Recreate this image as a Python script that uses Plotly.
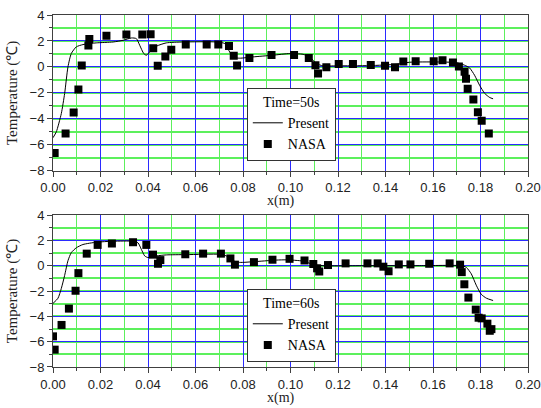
import plotly.graph_objects as go

# ---- Data: Time = 50 s ----
nasa50_x = [0.0007, 0.0053, 0.0087, 0.0107, 0.0121, 0.0149, 0.0153, 0.0225, 0.0309, 0.0376,
            0.0411, 0.0422, 0.0441, 0.0473, 0.0498, 0.0559, 0.0647, 0.0696, 0.0741, 0.0761,
            0.0775, 0.0827, 0.0920, 0.1015, 0.1077, 0.1105, 0.1116, 0.1151, 0.1203, 0.1263,
            0.1338, 0.1398, 0.1440, 0.1475, 0.1527, 0.1603, 0.1640, 0.1684, 0.1709, 0.1733,
            0.1739, 0.1746, 0.1770, 0.1789, 0.1805, 0.1835]
nasa50_y = [-6.63, -5.13, -3.52, -1.75, 0.10, 1.64, 2.15, 2.41, 2.49, 2.49,
            2.52, 1.44, 0.08, 0.80, 1.33, 1.72, 1.72, 1.72, 1.62, 0.85,
            0.10, 0.69, 0.92, 0.92, 0.69, 0.13, -0.51, -0.03, 0.23, 0.23,
            0.15, 0.08, -0.03, 0.41, 0.44, 0.44, 0.51, 0.33, 0.03, -0.38,
            -0.92, -1.69, -2.51, -3.49, -4.15, -5.13]
pres50_x = [0.0, 0.0014, 0.0035, 0.0049, 0.0063, 0.0077, 0.0098, 0.0126, 0.0182, 0.0253,
            0.0295, 0.0330, 0.0351, 0.0365, 0.0382, 0.0393, 0.0407, 0.0435, 0.0477, 0.0547,
            0.0688, 0.0723, 0.0744, 0.0765, 0.0786, 0.0842, 0.0926, 0.0997, 0.1053, 0.1081,
            0.1109, 0.1137, 0.1193, 0.1333, 0.1445, 0.1502, 0.1614, 0.1698, 0.1733, 0.1754,
            0.1775, 0.1796, 0.1818, 0.1839, 0.1853]
pres50_y = [-5.46, -5.00, -3.60, -2.05, 0.00, 1.03, 1.54, 1.72, 1.85, 1.92,
            2.05, 2.23, 2.18, 1.67, 1.03, 0.90, 1.15, 1.59, 1.85, 1.92,
            1.92, 1.80, 1.15, 0.72, 0.67, 0.77, 0.90, 1.03, 0.97, 0.77,
            0.26, 0.08, 0.08, 0.10, 0.20, 0.36, 0.38, 0.33, 0.13, -0.08,
            -0.64, -1.41, -2.05, -2.36, -2.46]

# ---- Data: Time = 60 s ----
nasa60_x = [0.0000, 0.0007, 0.0036, 0.0067, 0.0095, 0.0107, 0.0142, 0.0188, 0.0248, 0.0337,
            0.0393, 0.0421, 0.0442, 0.0452, 0.0557, 0.0632, 0.0707, 0.0747, 0.0766, 0.0846,
            0.0924, 0.0996, 0.1059, 0.1096, 0.1112, 0.1121, 0.1158, 0.1232, 0.1324, 0.1367,
            0.1391, 0.1413, 0.1456, 0.1505, 0.1584, 0.1670, 0.1714, 0.1721, 0.1732, 0.1749,
            0.1780, 0.1792, 0.1805, 0.1829, 0.1839, 0.1846]
nasa60_y = [-5.58, -6.63, -4.68, -3.39, -1.98, -0.59, 0.95, 1.64, 1.75, 1.85,
            1.64, 0.87, 0.15, 0.44, 0.90, 0.95, 0.95, 0.57, 0.08, 0.28,
            0.47, 0.54, 0.41, 0.13, -0.21, -0.46, 0.05, 0.18, 0.18, 0.18,
            -0.08, -0.44, 0.10, 0.10, 0.15, 0.18, 0.08, -0.51, -1.47, -2.52,
            -3.47, -4.11, -4.16, -4.58, -5.14, -5.01]
pres60_x = [0.0, 0.0021, 0.0035, 0.0049, 0.0063, 0.0077, 0.0098, 0.0126, 0.0182, 0.0253,
            0.0337, 0.0358, 0.0372, 0.0386, 0.0400, 0.0435, 0.0477, 0.0561, 0.0702, 0.0730,
            0.0758, 0.0786, 0.0842, 0.0940, 0.0982, 0.1053, 0.1095, 0.1137, 0.1333, 0.1544,
            0.1719, 0.1740, 0.1761, 0.1782, 0.1803, 0.1825, 0.1853]
pres60_y = [-2.98, -2.57, -1.80, -0.77, 0.39, 1.03, 1.41, 1.67, 1.85, 1.93,
            1.93, 1.80, 1.29, 0.77, 0.64, 0.77, 0.85, 0.87, 0.90, 0.77,
            0.39, 0.26, 0.31, 0.44, 0.46, 0.36, 0.10, 0.00, 0.00, 0.00,
            0.00, -0.13, -0.64, -1.54, -2.26, -2.57, -2.75]

x_ticks = [0.00, 0.02, 0.04, 0.06, 0.08, 0.10, 0.12, 0.14, 0.16, 0.18, 0.20]
x_labels = ["0.00", "0.02", "0.04", "0.06", "0.08", "0.10", "0.12", "0.14", "0.16", "0.18", "0.20"]
y_ticks = [-8, -6, -4, -2, 0, 2, 4]
legend_titles = ["Time=50s", "Time=60s"]
x_title = "x(m)"
y_title = "Temperature (℃)"

BLUE = "#2b2bff"
GREEN = "#5cf05c"
AXC = "#404040"
SERIF = "Liberation Serif, Times New Roman, serif"
SANS = "Liberation Sans, Arial, sans-serif"

fig = go.Figure()

panels = [
    (pres50_x, pres50_y, nasa50_x, nasa50_y, "x", "y", "legend"),
    (pres60_x, pres60_y, nasa60_x, nasa60_y, "x2", "y2", "legend2"),
]
for px_, py_, nx_, ny_, xa, ya, lg in panels:
    fig.add_trace(go.Scatter(x=px_, y=py_, mode="lines", name="Present",
                             line=dict(color="black", width=1, shape="spline", smoothing=0.6),
                             xaxis=xa, yaxis=ya, legend=lg))
    fig.add_trace(go.Scatter(x=nx_, y=ny_, mode="markers", name="NASA",
                             marker=dict(symbol="square", color="black", size=8),
                             xaxis=xa, yaxis=ya, legend=lg))

top_dom = [0.5577, 1.0]
bot_dom = [0.0, 0.4318]

def xax(anchor):
    return dict(
        range=[0, 0.2], tickvals=x_ticks, ticktext=x_labels,
        showline=True, linecolor=AXC, linewidth=1, mirror=True,
        ticks="outside", ticklen=5, tickcolor=AXC, tickwidth=1,
        showgrid=True, gridcolor=BLUE, gridwidth=1.3,
        minor=dict(dtick=0.01, tick0=0, ticks="outside", ticklen=3, tickcolor=AXC,
                   showgrid=True, gridcolor=GREEN, gridwidth=1),
        zeroline=False, anchor=anchor, automargin=False,
        tickfont=dict(family=SANS, size=13, color="#222"),
        domain=[0, 1],
    )

def yax(anchor, dom):
    return dict(
        range=[-8, 4], tickvals=y_ticks,
        showline=True, linecolor=AXC, linewidth=1, mirror=True,
        ticks="outside", ticklen=5, tickcolor=AXC, tickwidth=1,
        showgrid=True, gridcolor=BLUE, gridwidth=1.3,
        minor=dict(dtick=1, tick0=0, ticks="outside", ticklen=3, tickcolor=AXC,
                   showgrid=True, gridcolor=GREEN, gridwidth=1.8),
        zeroline=False, anchor=anchor, domain=dom, automargin=False,
        tickfont=dict(family=SANS, size=13, color="#222"),
        title=dict(text=y_title, font=dict(family=SERIF, size=15, color="#222"), standoff=8),
    )

def leg(title, ytop):
    return dict(
        title=dict(text=title, font=dict(family=SERIF, size=14, color="black"), side="top center"),
        x=0.408, y=ytop, xanchor="left", yanchor="top",
        bgcolor="white", bordercolor="#333", borderwidth=1,
        font=dict(family=SERIF, size=14, color="black"),
        itemwidth=30, tracegroupgap=0, traceorder="normal",
    )

annotations = [
    dict(text=x_title, xref="paper", yref="paper", x=0.48, y=0.4716, xanchor="center",
         yanchor="middle", showarrow=False, font=dict(family=SERIF, size=14, color="#222")),
    dict(text=x_title, xref="paper", yref="paper", x=0.48, y=-0.088, xanchor="center",
         yanchor="middle", showarrow=False, font=dict(family=SERIF, size=14, color="#222")),
]

fig.update_layout(
    width=541, height=408,
    margin=dict(l=53, r=13, t=15, b=41),
    paper_bgcolor="white", plot_bgcolor="white",
    xaxis=xax("y"), yaxis=yax("x", top_dom),
    xaxis2=xax("y2"), yaxis2=yax("x2", bot_dom),
    legend=leg(legend_titles[0], 0.7926),
    legend2=leg(legend_titles[1], 0.2216),
    annotations=annotations,
    showlegend=True,
)

fig.write_html("out.html")
